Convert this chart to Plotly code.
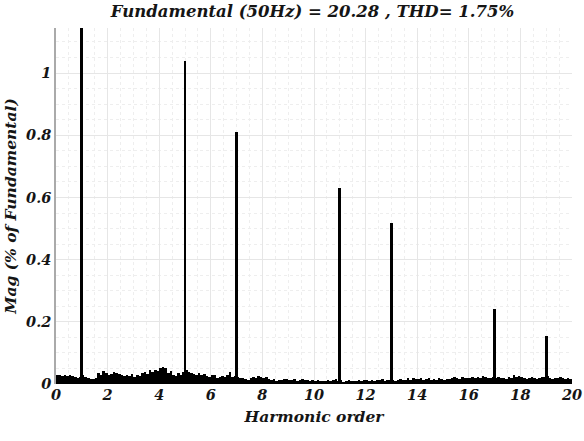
import numpy as np
import plotly.graph_objects as go

# Harmonic orders and magnitudes (% of fundamental)
harmonic_orders = [1, 5, 7, 11, 13, 17, 19]
harmonic_mags = [100.0, 1.039, 0.810, 0.630, 0.518, 0.241, 0.154]

# Inter-harmonic spectrum floor, 0.1-order bins from 0 to 20
floor_step = 0.1
floor_mags = [
    0.028, 0.030, 0.027, 0.029, 0.026, 0.028, 0.025, 0.022, 0.020, 0.024,
    0.030, 0.022, 0.018, 0.015, 0.016, 0.020, 0.034, 0.030, 0.042, 0.036,
    0.028, 0.033, 0.040, 0.036, 0.032, 0.030, 0.025, 0.029, 0.027, 0.033,
    0.024, 0.030, 0.027, 0.035, 0.040, 0.032, 0.044, 0.038, 0.046, 0.042,
    0.050, 0.056, 0.052, 0.036, 0.042, 0.030, 0.027, 0.034, 0.030, 0.040,
    0.045, 0.040, 0.036, 0.032, 0.030, 0.034, 0.028, 0.031, 0.026, 0.024,
    0.028, 0.030, 0.020, 0.022, 0.025, 0.022, 0.030, 0.038, 0.024, 0.026,
    0.022, 0.018, 0.020, 0.016, 0.014, 0.020, 0.024, 0.020, 0.026, 0.022,
    0.020, 0.024, 0.015, 0.012, 0.016, 0.011, 0.014, 0.012, 0.015, 0.017,
    0.013, 0.012, 0.015, 0.011, 0.013, 0.015, 0.012, 0.014, 0.010, 0.013,
    0.010, 0.012, 0.011, 0.009, 0.011, 0.012, 0.010, 0.013, 0.016, 0.010,
    0.012, 0.008, 0.010, 0.012, 0.009, 0.011, 0.010, 0.012, 0.010, 0.013,
    0.012, 0.010, 0.014, 0.011, 0.013, 0.012, 0.016, 0.011, 0.013, 0.014,
    0.012, 0.011, 0.014, 0.016, 0.012, 0.013, 0.018, 0.014, 0.020, 0.017,
    0.015, 0.018, 0.013, 0.016, 0.020, 0.014, 0.017, 0.013, 0.018, 0.016,
    0.014, 0.017, 0.016, 0.019, 0.021, 0.018, 0.016, 0.022, 0.019, 0.020,
    0.018, 0.021, 0.020, 0.023, 0.019, 0.025, 0.022, 0.020, 0.018, 0.022,
    0.020, 0.021, 0.018, 0.020, 0.016, 0.022, 0.019, 0.030, 0.024, 0.026,
    0.021, 0.018, 0.016, 0.020, 0.024, 0.019, 0.017, 0.018, 0.022, 0.021,
    0.026, 0.018, 0.015, 0.020, 0.018, 0.022, 0.019, 0.016, 0.020, 0.015,
]
floor_x = [floor_step * (i + 0.5) for i in range(len(floor_mags))]

x_ticks = list(range(0, 21, 2))
y_ticks = [0, 0.2, 0.4, 0.6, 0.8, 1]
y_tick_text = ["0", "0.2", "0.4", "0.6", "0.8", "1"]

fundamental_hz = 50
fundamental_mag = 20.28
thd_pct = 1.75

serif = "DejaVu Serif"
ink = "#151515"
tick_font = dict(family=serif, size=14.5, color=ink, weight="bold", style="italic")
label_font = dict(family=serif, size=15.5, color=ink, weight="bold", style="italic")

fig = go.Figure()
fig.add_trace(go.Bar(
    x=floor_x, y=floor_mags, width=floor_step,
    marker=dict(color="black", line=dict(width=0)),
    showlegend=False,
))
fig.add_trace(go.Bar(
    x=harmonic_orders, y=harmonic_mags, width=0.11,
    marker=dict(color="black", line=dict(width=0)),
    showlegend=False,
))

fig.update_layout(
    width=584, height=441,
    margin=dict(l=56, r=12, t=28, b=57, autoexpand=False),
    paper_bgcolor="white", plot_bgcolor="white",
    font=dict(family=serif, color=ink),
    barmode="overlay", bargap=0,
    title=dict(
        text=f"Fundamental ({fundamental_hz}Hz) = {fundamental_mag} , THD= {thd_pct}%",
        x=0.535, xanchor="center", y=0.974, yanchor="middle",
        font=dict(family=serif, size=16.5, color=ink, weight="bold", style="italic"),
    ),
    xaxis=dict(
        range=[0, 20], tickvals=x_ticks, ticktext=[str(v) for v in x_ticks],
        tickfont=tick_font, ticks="", showline=False, zeroline=False,
        ticklabeloverflow="allow", automargin=False,
        showgrid=True, gridcolor="#e6e6e6", gridwidth=1,
        minor=dict(dtick=0.5, showgrid=True, gridcolor="#eeeeee", griddash="dot", gridwidth=1),
        title=dict(text="Harmonic order", standoff=9, font=label_font),
    ),
    yaxis=dict(
        range=[0, 1.145], tickvals=y_ticks, ticktext=y_tick_text,
        tickfont=tick_font, ticks="", zeroline=False, automargin=False,
        showline=True, linecolor="#aaaaaa", linewidth=1.5,
        showgrid=True, gridcolor="#e6e6e6", gridwidth=1,
        minor=dict(dtick=0.05, showgrid=True, gridcolor="#eeeeee", griddash="dot", gridwidth=1),
        title=dict(text="Mag (% of Fundamental)", standoff=6, font=label_font),
    ),
)

fig.write_html("out.html")
